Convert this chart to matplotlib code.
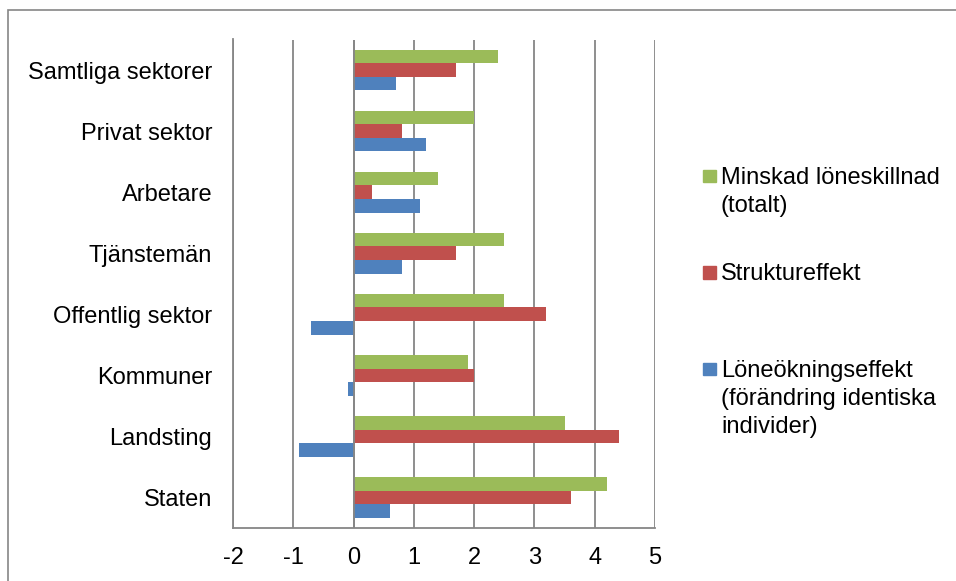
import numpy as np
import matplotlib
matplotlib.use('Agg')
import matplotlib.pyplot as plt
from matplotlib.patches import Rectangle

### Data (top to bottom as in the chart)
categories = ['Samtliga sektorer', 'Privat sektor', 'Arbetare', 'Tjänstemän',
              'Offentlig sektor', 'Kommuner', 'Landsting', 'Staten']
minskad = [2.4, 2.0, 1.4, 2.5, 2.5, 1.9, 3.5, 4.2]
struktur = [1.7, 0.8, 0.3, 1.7, 3.2, 2.0, 4.4, 3.6]
loneokning = [0.7, 1.2, 1.1, 0.8, -0.7, -0.1, -0.9, 0.6]
series_labels = ['Minskad löneskillnad\n(totalt)', 'Struktureffekt',
                 'Löneökningseffekt\n(förändring identiska\nindivider)']
series_colors = ['#9BBB59', '#C0504D', '#4F81BD']
xticks = [-2, -1, 0, 1, 2, 3, 4, 5]

plt.rcParams['font.family'] = ['Liberation Sans', 'DejaVu Sans']
FS = 17

W, H = 956, 581
fig = plt.figure(figsize=(W/100, H/100), dpi=100)
ax = fig.add_axes([233/W, 1-528/H, (655-233)/W, (528-39.5)/H])

n = len(categories)
y = np.arange(n)[::-1]          # Samtliga at top
h = 1/4.5

ax.barh(y + h, minskad, height=h, color=series_colors[0], zorder=3)
ax.barh(y, struktur, height=h, color=series_colors[1], zorder=3)
ax.barh(y - h, loneokning, height=h, color=series_colors[2], zorder=3)

ax.set_xlim(-2, 5)
ax.set_ylim(-0.5, n - 0.5)
ax.set_xticks(xticks)
ax.set_xticklabels([str(t) for t in xticks], fontsize=FS)
ax.set_yticks(y)
ax.set_yticklabels(categories, fontsize=FS)
ax.tick_params(axis='both', length=0)
ax.tick_params(axis='x', pad=14)
ax.tick_params(axis='y', pad=15)

ax.grid(axis='x', color='#868686', linewidth=1.3, zorder=1)
for s in ['top', 'right']:
    ax.spines[s].set_visible(False)
for s in ['left', 'bottom']:
    ax.spines[s].set_color('#868686')
    ax.spines[s].set_linewidth(1.3)
ax.axvline(0, color='#868686', linewidth=1.3, zorder=4)

### Legend drawn by hand: marker lines up with first text line
first_line_y = [176, 272.5, 369]
for lab, col, yc in zip(series_labels, series_colors, first_line_y):
    fig.patches.append(Rectangle((703/W, 1-(yc+6.3)/H), 12.7/W, 12.7/H,
                                 transform=fig.transFigure, color=col))
    fig.text(721/W, 1-(yc-9)/H, lab, fontsize=FS, va='top', ha='left',
             linespacing=1.34)

# outer chart border
fig.patches.append(Rectangle((8/W, -0.1), 1.2, 1 - 10/H + 0.1,
                             transform=fig.transFigure, fill=False,
                             edgecolor='#868686', linewidth=1.2))

fig.savefig('out.png', dpi=100)
